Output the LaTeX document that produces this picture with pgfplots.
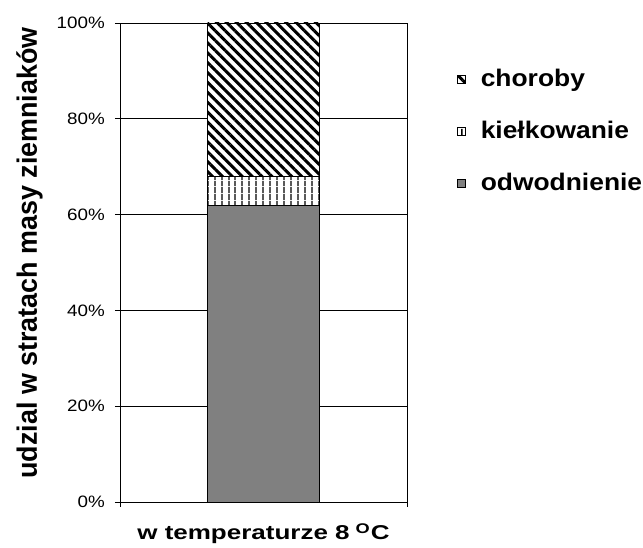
\documentclass[border=0pt]{standalone}
\usepackage{pgfplots}
\pgfplotsset{compat=1.18}
\usepackage{fontspec}
\setmainfont{Liberation Sans}
\usetikzlibrary{patterns.meta}
\newfontfamily\tickfont[FakeStretch=1.14]{Liberation Sans}
\newfontfamily\ylabfont[FakeStretch=0.96]{Liberation Sans}
\newfontfamily\xlabfont[FakeStretch=1.3]{Liberation Sans}
\newfontfamily\legfont[FakeStretch=1.1]{Liberation Sans}
\definecolor{bargray}{RGB}{128,128,128}
\begin{document}
\begin{tikzpicture}[x=1pt,y=1pt]
\useasboundingbox (-120,-46) rectangle (523,502);
\begin{axis}[
  at={(0,0)}, anchor=south west, scale only axis,
  width=287pt, height=479pt,
  xmin=0, xmax=3, ymin=0, ymax=100,
  ybar stacked, bar width=1.17,
  axis line style={black, line width=0.8pt},
  ymajorgrids, grid style={black, line width=0.8pt},
  ytick={0,20,40,60,80,100},
  yticklabels={0\%,20\%,40\%,60\%,80\%,100\%},
  yticklabel style={font=\tickfont\fontsize{16.5}{16.5}\selectfont, inner sep=0pt, anchor=east, xshift=-10pt},
  xtick={0,3}, xticklabels={,},
  xtick pos=bottom, ytick pos=left,
  tick align=outside, major tick length=5pt,
  tick style={black, line width=0.8pt},
  xlabel={w temperaturze 8\hspace{6pt}\raisebox{6pt}{\fontsize{14}{14}\selectfont O}\hspace{1pt}C},
  xlabel style={font=\xlabfont\bfseries\fontsize{20}{20}\selectfont, at={(axis description cs:0.5,0)}, anchor=base, yshift=-38pt, inner sep=0pt},
  ylabel={udzial w stratach masy ziemniaków},
  ylabel style={font=\ylabfont\bfseries\fontsize{28}{28}\selectfont, at={(axis description cs:-0.2892,0.52)}, anchor=base, inner sep=0pt},
  reverse legend,
  legend cell align=left,
  legend style={at={(axis description cs:1,1)}, anchor=north west, xshift=50pt, yshift=-46pt,
    draw=none, fill=none, inner sep=0pt, row sep=29pt,
    font=\legfont\bfseries\fontsize{24}{24}\selectfont,
    nodes={inner sep=0pt, text height=17pt, text depth=6pt}},
  legend image code/.code={\draw[#1, line width=0.6pt] (0pt,-3pt) rectangle (8pt,5pt);},
]
\addplot[draw=black, line width=0.8pt, fill=bargray] coordinates {(1.5,62)};
\addlegendentry{\hspace{15pt}odwodnienie}
\addplot[draw=black, line width=0.8pt, fill=white, postaction={pattern={Lines[angle=90,distance=6.5pt,line width=1.5pt]}}] coordinates {(1.5,6)};
\addlegendentry{\hspace{15pt}kiełkowanie}
\addplot[draw=black, line width=0.8pt, fill=white, postaction={pattern={Lines[angle=-45,distance=7pt,line width=3pt]}}] coordinates {(1.5,32)};
\addlegendentry{\hspace{15pt}choroby}
\end{axis}
\end{tikzpicture}
\end{document}
